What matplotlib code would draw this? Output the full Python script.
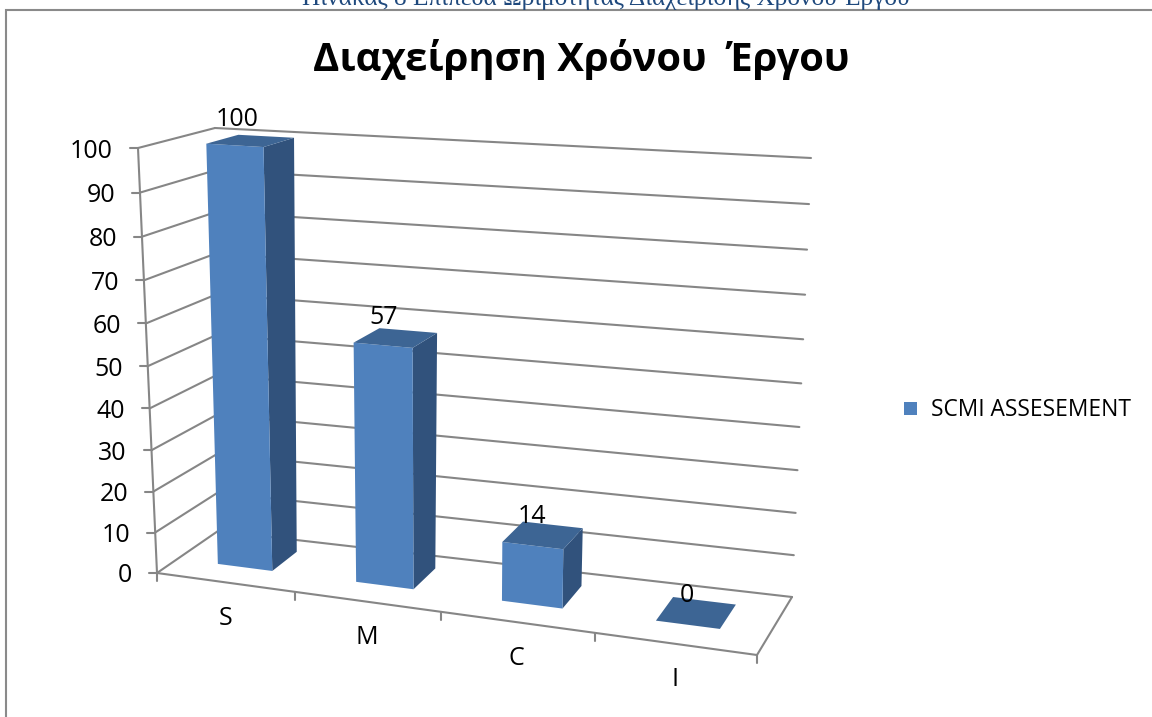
import numpy as np
import matplotlib
matplotlib.use("Agg")
import matplotlib.pyplot as plt
from matplotlib.patches import Polygon, Rectangle

# data
categories = ["S", "M", "C", "I"]
values = [100, 57, 14, 0]
y_ticks = [0, 10, 20, 30, 40, 50, 60, 70, 80, 90, 100]
y_max = 100
series_name = "SCMI ASSESEMENT"
title = "Διαχείρηση Χρόνου  Έργου"
caption = "Πίνακας 8 Επίπεδα Ωριμότητας Διαχείρισης Χρόνου Έργου"

W, H = 1152, 717
GRID = "#868686"
FRONT = "#4F81BD"
SIDE = "#31527C"
TOP = "#3D6594"
FONT = "Open Sans"

# corners of the 3d box in picture pixels: front-left, front-right, back-right, back-left
floor = np.array([[157, 573], [757, 655], [792, 597], [218, 531]], float)
roof = np.array([[138, 148], [772, 188], [811, 158], [215, 128]], float)


def warp(t, r):
    # perspective foreshortening along one edge
    return t / (t + (1 - t) * r)


def project(cat, depth, value):
    s = warp(cat / len(categories), 1.114)
    v = warp(value / y_max, 1.055)
    low = (floor[0] * (1 - s) + floor[1] * s) * (1 - depth) + (floor[3] * (1 - s) + floor[2] * s) * depth
    high = (roof[0] * (1 - s) + roof[1] * s) * (1 - depth) + (roof[3] * (1 - s) + roof[2] * s) * depth
    return low + (high - low) * v


fig = plt.figure(figsize=(W / 100, H / 100), dpi=100)
ax = fig.add_axes([0, 0, 1, 1])
ax.set_xlim(0, W)
ax.set_ylim(H, 0)
ax.axis("off")

# outer frame of the chart object, runs off the right and bottom of the picture
ax.add_patch(Rectangle((5.5, 10), W, H, fc="white", ec="#8A8A8A", lw=1.5, zorder=0))

n = len(categories)


def line(p, q, **kw):
    ax.plot([p[0], q[0]], [p[1], q[1]], color=GRID, lw=1.5, solid_capstyle="round", zorder=1, **kw)


# gridlines on left wall and back wall
for v in y_ticks:
    p = project(0, 0, v)
    back = project(0, 1, v)
    right = project(n, 1, v)
    line(p, back)
    line(back, right)
    line(p - [8, 0], p)
    ax.text(p[0] - 25, p[1] + 3, str(v), ha="right", va="center", fontsize=18,
            family=FONT, color="black", zorder=5)

# axis lines
line(project(0, 0, 0), project(0, 0, y_max))
line(project(0, 0, 0), project(n, 0, 0))
line(project(n, 0, 0), project(n, 1, 0))
for i in range(n + 1):
    p = project(i, 0, 0)
    line(p, p + [0, 8])

# bars
bar_w = 0.40
d0, d1 = 0.34, 0.77
for i, (name, val) in enumerate(zip(categories, values)):
    x0, x1 = i + 0.5 - bar_w / 2, i + 0.5 + bar_w / 2
    front = [project(x0, d0, 0), project(x1, d0, 0), project(x1, d0, val), project(x0, d0, val)]
    side = [project(x1, d0, 0), project(x1, d1, 0), project(x1, d1, val), project(x1, d0, val)]
    top = [project(x0, d0, val), project(x1, d0, val), project(x1, d1, val), project(x0, d1, val)]
    if val > 0:
        ax.add_patch(Polygon(side, fc=SIDE, ec="none", zorder=3))
        ax.add_patch(Polygon(front, fc=FRONT, ec="none", zorder=3))
    ax.add_patch(Polygon(top, fc=TOP, ec="none", zorder=3))

    c = project(i + 0.5, d0 + 0.1, val)
    ax.text(c[0] - 5, c[1] - 24, str(val), ha="center", va="center", fontsize=18,
            family=FONT, color="black", zorder=5)
    b = project(i + 0.5, 0, 0)
    ax.text(b[0], b[1] + 36, name, ha="center", va="center", fontsize=18,
            family=FONT, color="black", zorder=5)

# legend
ax.add_patch(Rectangle((904, 402), 13, 13, fc=FRONT, ec="none", zorder=3))
ax.text(931, 410, series_name, ha="left", va="center", fontsize=16.4, family=FONT, color="black")

ax.text(581, 60, title, ha="center", va="center", fontsize=28.8, fontweight="bold",
        family=FONT, color="black")
ax.text(606, -1, caption, ha="center", va="center", fontsize=18.2, family="Liberation Serif",
        color="#1F497D", clip_on=False)

fig.savefig("out.png", dpi=100)
